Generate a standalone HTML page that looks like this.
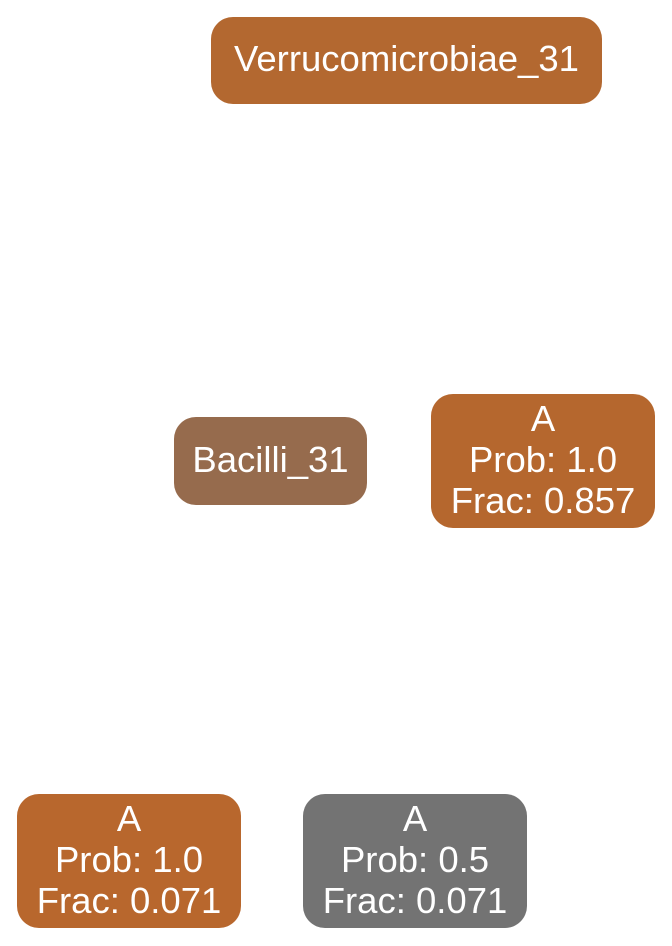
<!DOCTYPE html>
<html><head><meta charset="utf-8"><style>
html,body{margin:0;padding:0;background:#fff;width:672px;height:946px;overflow:hidden}
.n{position:absolute;box-sizing:border-box;padding-bottom:4px;border-radius:22px;color:#fff;font-family:"Liberation Sans",Arial,sans-serif;font-size:36.5px;line-height:41px;display:flex;flex-direction:column;align-items:center;justify-content:center;text-align:center;white-space:nowrap}
</style></head><body>
<div class="n" style="left:211px;top:17px;width:391px;height:87px;background:#b36830">Verrucomicrobiae_31</div>
<div class="n" style="left:174px;top:417px;width:193px;height:88px;background:#966b4d">Bacilli_31</div>
<div class="n" style="left:431px;top:394px;width:224px;height:134px;background:#b5672e"><div>A</div><div>Prob: 1.0</div><div>Frac: 0.857</div></div>
<div class="n" style="left:17px;top:794px;width:224px;height:134px;background:#b8672d"><div>A</div><div>Prob: 1.0</div><div>Frac: 0.071</div></div>
<div class="n" style="left:303px;top:794px;width:224px;height:134px;background:#737373"><div>A</div><div>Prob: 0.5</div><div>Frac: 0.071</div></div>
</body></html>
